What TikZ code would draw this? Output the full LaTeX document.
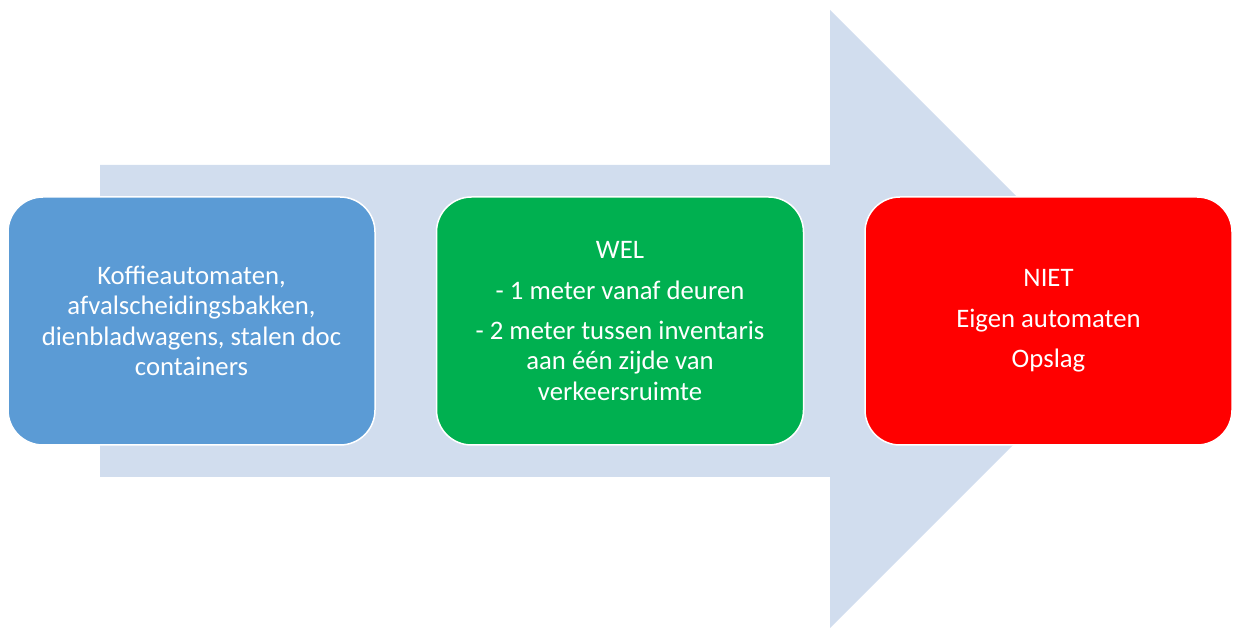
\documentclass[tikz,border=0pt]{standalone}
\usepackage{fontspec}
\setmainfont{Carlito}
\usepackage{xcolor}
\usepackage{tikz}
\usetikzlibrary{shapes,calc}
\definecolor{arrowBlue}{HTML}{D1DDEE}
\definecolor{stageBlue}{HTML}{5B9BD5}
\definecolor{stageGreen}{HTML}{00B050}
\definecolor{stageRed}{HTML}{FF0000}
\tikzstyle{tsText} = [ 
    text=white, 
    font=\fontsize{15.2}{17.3}\selectfont
]
\tikzstyle{tsWraptext} = [ 
    tsText, 
    align=center
]
\tikzstyle{tsStage} = [ 
    rectangle,
    rounded corners=0.7cm,
    tsWraptext,
    draw=white,
    line width=0.3mm,
    minimum width=7.34cm,
    minimum height=4.96cm]

\begin{document}
\begin{tikzpicture}
        
        \useasboundingbox (0,0) rectangle (24.8,12.56);
        
        % big arrow behind the stages
        \fill[arrowBlue] (2.0,3.02) -- (2.0,9.26) -- (16.6,9.26) -- (16.6,12.36)
                -- (22.78,6.18) -- (16.6,0) -- (16.6,3.02) -- cycle;
        
        \node[tsStage, fill=stageBlue] (inventaris) at (3.83,6.14)
                {Koffieautomaten,\\ afvalscheidingsbakken,\\ dienbladwagens, stalen doc\\ containers};
        
        \node[tsStage, fill=stageGreen] (wel) at (12.4,6.14)
                {WEL\\[0.2cm] - 1 meter vanaf deuren\\[0.2cm] - 2 meter tussen inventaris\\ aan één zijde van\\ verkeersruimte};
        
        \node[tsStage, fill=stageRed] (niet) at (20.97,6.14)
                {NIET\\[0.2cm] Eigen automaten\\[0.2cm] Opslag};
        
\end{tikzpicture}
\end{document}
